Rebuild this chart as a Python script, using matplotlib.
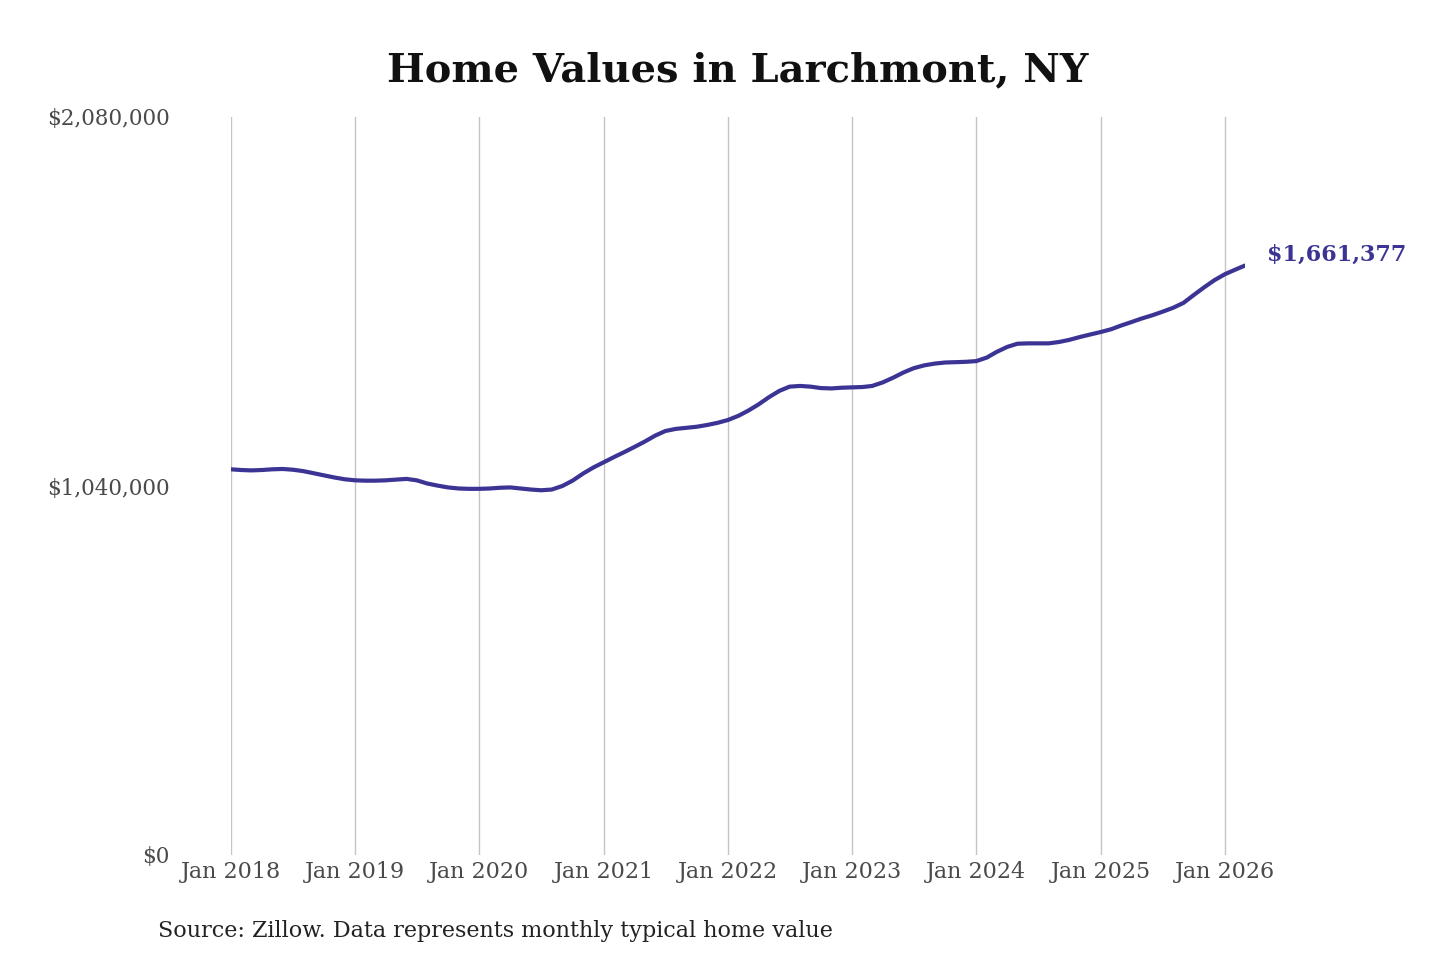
import numpy as np
import pandas as pd
import matplotlib
matplotlib.use('Agg')
import matplotlib.pyplot as plt
import matplotlib.dates as mdates
from matplotlib.ticker import FuncFormatter

# monthly typical home value, Jan 2018 - Mar 2026 (thousands of $)
vals_2018 = [1087, 1085, 1084, 1085, 1087, 1088, 1086, 1082, 1076, 1070, 1064, 1059]
vals_2019 = [1056, 1055, 1055, 1056, 1058, 1060, 1056, 1047, 1041, 1036, 1033, 1032]
vals_2020 = [1032, 1033, 1035, 1036, 1033, 1030, 1028, 1030, 1040, 1055, 1075, 1092]
vals_2021 = [1107, 1122, 1135, 1150, 1165, 1182, 1195, 1201, 1204, 1207, 1212, 1218]
vals_2022 = [1226, 1238, 1252, 1270, 1290, 1308, 1320, 1322, 1320, 1316, 1315, 1317]
vals_2023 = [1318, 1319, 1322, 1332, 1345, 1360, 1372, 1380, 1385, 1388, 1389, 1390]
vals_2024 = [1392, 1402, 1418, 1432, 1441, 1442, 1442, 1442, 1446, 1452, 1460, 1467]
vals_2025 = [1474, 1482, 1492, 1502, 1512, 1521, 1531, 1542, 1556, 1578, 1600, 1620]
vals_2026 = [1637, 1650, 1661.377]

values = np.array(vals_2018 + vals_2019 + vals_2020 + vals_2021 + vals_2022 +
                  vals_2023 + vals_2024 + vals_2025 + vals_2026) * 1000
dates = pd.date_range('2018-01-01', periods=len(values), freq='MS')

y_ticks = [0, 1040000, 2080000]
x_tick_years = list(range(2018, 2027))

line_color = '#3b3494'
text_color = '#4a4a4a'

plt.rcParams['font.family'] = 'DejaVu Serif'

fig = plt.figure(figsize=(14.4, 9.6), dpi=100)
ax = fig.add_axes([231 / 1440, 105 / 960, (1245 - 231) / 1440, (855 - 117) / 960])

ax.plot(dates, values, color=line_color, lw=3, solid_capstyle='round',
        solid_joinstyle='round')

ax.set_ylim(0, 2080000)
ax.set_xlim(dates[0], dates[-1])
ax.set_yticks(y_ticks)
ax.yaxis.set_major_formatter(FuncFormatter(lambda v, p: '${:,.0f}'.format(v)))
ticks = [pd.Timestamp('%d-01-01' % y) for y in x_tick_years]
ax.set_xticks(ticks)
ax.xaxis.set_major_formatter(mdates.DateFormatter('Jan %Y'))

ax.grid(axis='x', color='#c4c4c4', lw=1)
ax.grid(axis='y', visible=False)
for s in ax.spines.values():
    s.set_visible(False)
ax.tick_params(axis='both', length=0, labelsize=16, labelcolor=text_color)
ax.tick_params(axis='x', pad=4)
ax.tick_params(axis='y', pad=44)
for lbl in ax.get_yticklabels():
    lbl.set_fontsize(15.5)

ax.annotate('${:,.0f}'.format(values[-1]), xy=(dates[-1], values[-1]),
            xytext=(16, 8), textcoords='offset points', color=line_color,
            fontsize=16, fontweight='bold', va='center', ha='left')

fig.text(738 / 1440, 1 - 70 / 960, 'Home Values in Larchmont, NY', ha='center',
         va='center', fontsize=28.8, fontweight='bold', color='#111111')
fig.text(158 / 1440, 1 - 931 / 960,
         'Source: Zillow. Data represents monthly typical home value',
         ha='left', va='center', fontsize=16, color='#222222')

fig.savefig('out.png', dpi=100, facecolor='white')
